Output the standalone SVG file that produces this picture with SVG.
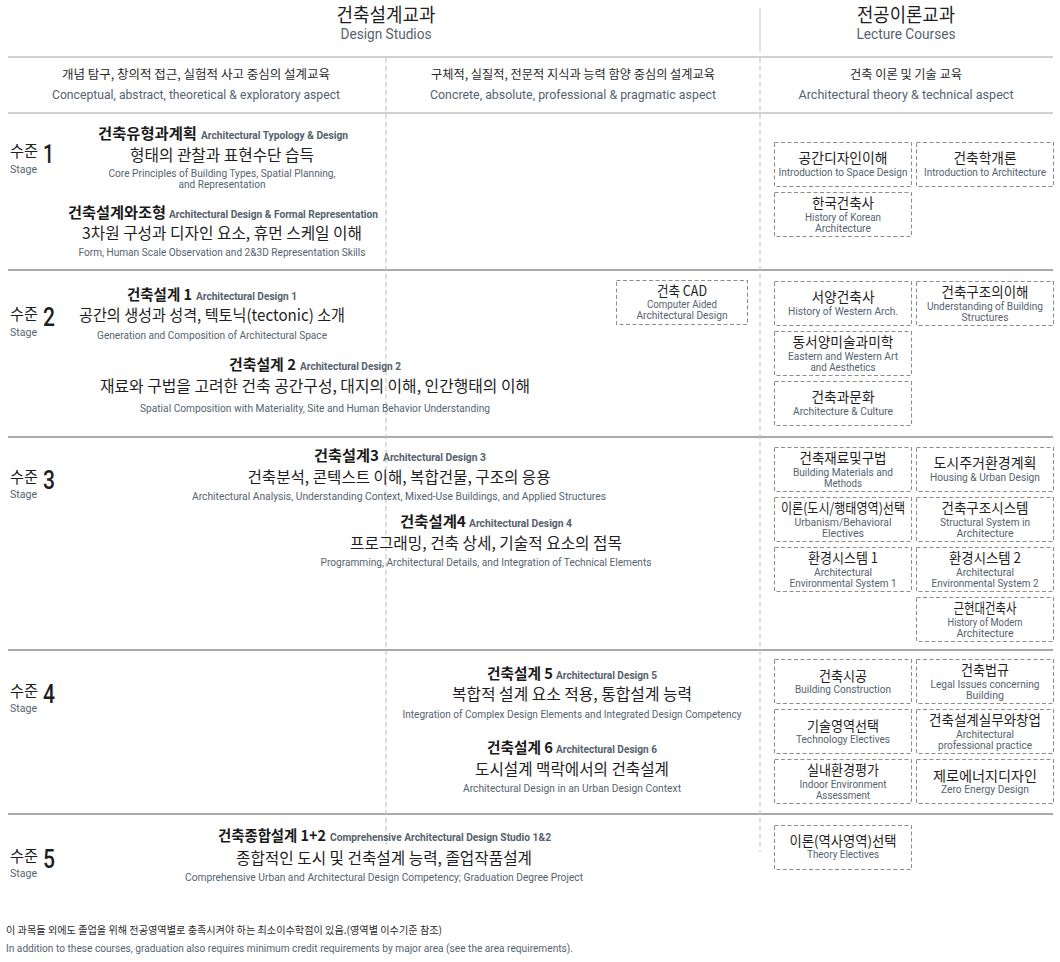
<svg xmlns="http://www.w3.org/2000/svg" width="1060" height="962" viewBox="0 0 1060 962">
<style>
text{font-family:"Noto Sans CJK KR",sans-serif}
.k{fill:#1e1e1e}
.e{font-family:"Liberation Sans Narrow","Roboto","Liberation Sans","Noto Sans CJK KR",sans-serif;fill:#55636f}
.hk{font-size:19px;text-anchor:middle;fill:#1e1e1e}
.he{font-size:15px;text-anchor:middle}
.sk{font-size:12.5px;text-anchor:middle;fill:#2a2a2a}
.se{font-size:13px;text-anchor:middle}
.tk{font-size:15px;font-weight:700;fill:#1a1a1a}
.te{font-size:11.5px;font-weight:700;fill:#55616d}
.dk{font-size:16px;text-anchor:middle;fill:#1e1e1e}
.de{font-size:11px;text-anchor:middle}
.bk{font-size:14px;text-anchor:middle;fill:#1e1e1e}
.be{font-size:11px;text-anchor:middle}
.lvk{font-size:16px;fill:#1e1e1e}
.lvn{font-family:"Liberation Sans Narrow","Roboto","Liberation Sans",sans-serif;font-size:25px;font-weight:500;fill:#1e1e1e}
.lve{font-size:11px}
.fk{font-size:10.5px;fill:#2a2a2a}
.fe{font-size:11.5px}
.box{fill:none;stroke:#8e8e8e;stroke-width:1.1;stroke-dasharray:4 2.5}
.hl{stroke:#c2c2c2;stroke-width:1.5}
.sl{stroke:#8e8e8e;stroke-width:1.6}
.vd{stroke:#bdbdbd;stroke-width:1;stroke-dasharray:5 3}
</style>

<g id="grid-lines">
<line class="hl" x1="8" y1="57" x2="1053" y2="57"/>
<line class="hl" x1="8" y1="113" x2="1053" y2="113"/>
<line class="sl" x1="8" y1="270" x2="1053" y2="270"/>
<line class="sl" x1="8" y1="437" x2="1053" y2="437"/>
<line class="sl" x1="8" y1="650" x2="1053" y2="650"/>
<line class="sl" x1="8" y1="814" x2="1053" y2="814"/>
<line x1="760" y1="8" x2="760" y2="52" stroke="#c8c8c8" stroke-width="1"/>
<line class="vd" x1="760" y1="58" x2="760" y2="852"/>
<line class="vd" x1="386" y1="58" x2="386" y2="845"/>
</g>

<g id="header">
<text class="hk" x="386" y="22" textLength="99" lengthAdjust="spacingAndGlyphs">건축설계교과</text>
<text class="e he" x="386" y="39" textLength="91" lengthAdjust="spacingAndGlyphs">Design Studios</text>
<text class="hk" x="906" y="22" textLength="98" lengthAdjust="spacingAndGlyphs">전공이론교과</text>
<text class="e he" x="906" y="39" textLength="99" lengthAdjust="spacingAndGlyphs">Lecture Courses</text>
<text class="sk" x="196" y="79" textLength="268" lengthAdjust="spacingAndGlyphs">개념 탐구, 창의적 접근, 실험적 사고 중심의 설계교육</text>
<text class="e se" x="196" y="99" textLength="288" lengthAdjust="spacingAndGlyphs">Conceptual, abstract, theoretical &amp; exploratory aspect</text>
<text class="sk" x="573" y="79" textLength="284" lengthAdjust="spacingAndGlyphs">구체적, 실질적, 전문적 지식과 능력 함양 중심의 설계교육</text>
<text class="e se" x="573" y="99" textLength="286" lengthAdjust="spacingAndGlyphs">Concrete, absolute, professional &amp; pragmatic aspect</text>
<text class="sk" x="906" y="79" textLength="112" lengthAdjust="spacingAndGlyphs">건축 이론 및 기술 교육</text>
<text class="e se" x="906" y="99" textLength="215" lengthAdjust="spacingAndGlyphs">Architectural theory &amp; technical aspect</text>
</g>

<g id="stage-1">
<text class="lvk" x="10" y="157" textLength="28" lengthAdjust="spacingAndGlyphs">수준</text>
<text class="lvn" x="43" y="163" textLength="11" lengthAdjust="spacingAndGlyphs">1</text>
<text class="e lve" x="10" y="173" textLength="27" lengthAdjust="spacingAndGlyphs">Stage</text>
</g>
<g id="stage-2">
<text class="lvk" x="10" y="320" textLength="28" lengthAdjust="spacingAndGlyphs">수준</text>
<text class="lvn" x="43" y="326" textLength="12" lengthAdjust="spacingAndGlyphs">2</text>
<text class="e lve" x="10" y="336" textLength="27" lengthAdjust="spacingAndGlyphs">Stage</text>
</g>
<g id="stage-3">
<text class="lvk" x="10" y="483" textLength="28" lengthAdjust="spacingAndGlyphs">수준</text>
<text class="lvn" x="43" y="489" textLength="12" lengthAdjust="spacingAndGlyphs">3</text>
<text class="e lve" x="10" y="498" textLength="27" lengthAdjust="spacingAndGlyphs">Stage</text>
</g>
<g id="stage-4">
<text class="lvk" x="10" y="697" textLength="28" lengthAdjust="spacingAndGlyphs">수준</text>
<text class="lvn" x="43" y="703" textLength="12" lengthAdjust="spacingAndGlyphs">4</text>
<text class="e lve" x="10" y="712" textLength="27" lengthAdjust="spacingAndGlyphs">Stage</text>
</g>
<g id="stage-5">
<text class="lvk" x="10" y="862" textLength="28" lengthAdjust="spacingAndGlyphs">수준</text>
<text class="lvn" x="43" y="868" textLength="12" lengthAdjust="spacingAndGlyphs">5</text>
<text class="e lve" x="10" y="877" textLength="27" lengthAdjust="spacingAndGlyphs">Stage</text>
</g>

<g id="studio-typology">
<text class="tk" x="98" y="139" textLength="99" lengthAdjust="spacingAndGlyphs">건축유형과계획</text>
<text class="e te" x="201" y="139" textLength="147" lengthAdjust="spacingAndGlyphs">Architectural Typology &amp; Design</text>
<text class="dk" x="222" y="161" textLength="184" lengthAdjust="spacingAndGlyphs">형태의 관찰과 표현수단 습득</text>
<text class="e de" x="222" y="177" textLength="227" lengthAdjust="spacingAndGlyphs">Core Principles of Building Types, Spatial Planning,</text>
<text class="e de" x="222" y="188" textLength="87" lengthAdjust="spacingAndGlyphs">and Representation</text>
</g>
<g id="studio-formal">
<text class="tk" x="68" y="218" textLength="98" lengthAdjust="spacingAndGlyphs">건축설계와조형</text>
<text class="e te" x="169" y="218" textLength="209" lengthAdjust="spacingAndGlyphs">Architectural Design &amp; Formal Representation</text>
<text class="dk" x="222" y="239" textLength="280" lengthAdjust="spacingAndGlyphs">3차원 구성과 디자인 요소, 휴먼 스케일 이해</text>
<text class="e de" x="222" y="256" textLength="287" lengthAdjust="spacingAndGlyphs">Form, Human Scale Observation and 2&amp;3D Representation Skills</text>
</g>

<g id="studio-design-1">
<text class="tk" x="127" y="300" textLength="65" lengthAdjust="spacingAndGlyphs">건축설계 1</text>
<text class="e te" x="196" y="300" textLength="101" lengthAdjust="spacingAndGlyphs">Architectural Design 1</text>
<text class="dk" x="212" y="321" textLength="266" lengthAdjust="spacingAndGlyphs">공간의 생성과 성격, 텍토닉(tectonic) 소개</text>
<text class="e de" x="212" y="339" textLength="230" lengthAdjust="spacingAndGlyphs">Generation and Composition of Architectural Space</text>
</g>
<g id="studio-design-2">
<text class="tk" x="229" y="370" textLength="67" lengthAdjust="spacingAndGlyphs">건축설계 2</text>
<text class="e te" x="300" y="370" textLength="101" lengthAdjust="spacingAndGlyphs">Architectural Design 2</text>
<text class="dk" x="315" y="392" textLength="430" lengthAdjust="spacingAndGlyphs">재료와 구법을 고려한 건축 공간구성, 대지의 이해, 인간행태의 이해</text>
<text class="e de" x="315" y="412" textLength="350" lengthAdjust="spacingAndGlyphs">Spatial Composition with Materiality, Site and Human Behavior Understanding</text>
</g>

<g id="studio-design-3">
<text class="tk" x="314" y="461" textLength="65" lengthAdjust="spacingAndGlyphs">건축설계3</text>
<text class="e te" x="383" y="461" textLength="103" lengthAdjust="spacingAndGlyphs">Architectural Design 3</text>
<text class="dk" x="399" y="483" textLength="303" lengthAdjust="spacingAndGlyphs">건축분석, 콘텍스트 이해, 복합건물, 구조의 응용</text>
<text class="e de" x="399" y="500" textLength="414" lengthAdjust="spacingAndGlyphs">Architectural Analysis, Understanding Context, Mixed-Use Buildings, and Applied Structures</text>
</g>
<g id="studio-design-4">
<text class="tk" x="400" y="527" textLength="66" lengthAdjust="spacingAndGlyphs">건축설계4</text>
<text class="e te" x="469" y="527" textLength="103" lengthAdjust="spacingAndGlyphs">Architectural Design 4</text>
<text class="dk" x="486" y="549" textLength="272" lengthAdjust="spacingAndGlyphs">프로그래밍, 건축 상세, 기술적 요소의 접목</text>
<text class="e de" x="486" y="566" textLength="331" lengthAdjust="spacingAndGlyphs">Programming, Architectural Details, and Integration of Technical Elements</text>
</g>

<g id="studio-design-5">
<text class="tk" x="487" y="679" textLength="66" lengthAdjust="spacingAndGlyphs">건축설계 5</text>
<text class="e te" x="556" y="679" textLength="101" lengthAdjust="spacingAndGlyphs">Architectural Design 5</text>
<text class="dk" x="572" y="700" textLength="240" lengthAdjust="spacingAndGlyphs">복합적 설계 요소 적용, 통합설계 능력</text>
<text class="e de" x="572" y="718" textLength="339" lengthAdjust="spacingAndGlyphs">Integration of Complex Design Elements and Integrated Design Competency</text>
</g>
<g id="studio-design-6">
<text class="tk" x="487" y="753" textLength="66" lengthAdjust="spacingAndGlyphs">건축설계 6</text>
<text class="e te" x="556" y="753" textLength="101" lengthAdjust="spacingAndGlyphs">Architectural Design 6</text>
<text class="dk" x="572" y="775" textLength="194" lengthAdjust="spacingAndGlyphs">도시설계 맥락에서의 건축설계</text>
<text class="e de" x="572" y="792" textLength="218" lengthAdjust="spacingAndGlyphs">Architectural Design in an Urban Design Context</text>
</g>

<g id="studio-comprehensive">
<text class="tk" x="218" y="841" textLength="108" lengthAdjust="spacingAndGlyphs">건축종합설계 1+2</text>
<text class="e te" x="330" y="841" textLength="221" lengthAdjust="spacingAndGlyphs">Comprehensive Architectural Design Studio 1&amp;2</text>
<text class="dk" x="384" y="864" textLength="296" lengthAdjust="spacingAndGlyphs">종합적인 도시 및 건축설계 능력, 졸업작품설계</text>
<text class="e de" x="384" y="881" textLength="398" lengthAdjust="spacingAndGlyphs">Comprehensive Urban and Architectural Design Competency; Graduation Degree Project</text>
</g>

<!-- lecture course boxes -->
<g id="c-space-design"><rect class="box" x="774.5" y="142.5" width="137" height="44"/>
<text class="bk" x="843" y="163" textLength="89" lengthAdjust="spacingAndGlyphs">공간디자인이해</text>
<text class="e be" x="843" y="176" textLength="129" lengthAdjust="spacingAndGlyphs">Introduction to Space Design</text></g>
<g id="c-intro-arch"><rect class="box" x="916.5" y="142.5" width="137" height="44"/>
<text class="bk" x="985" y="163" textLength="63" lengthAdjust="spacingAndGlyphs">건축학개론</text>
<text class="e be" x="985" y="176" textLength="122" lengthAdjust="spacingAndGlyphs">Introduction to Architecture</text></g>
<g id="c-korean-history"><rect class="box" x="774.5" y="192.5" width="137" height="44"/>
<text class="bk" x="843" y="208" textLength="62" lengthAdjust="spacingAndGlyphs">한국건축사</text>
<text class="e be" x="843" y="221" textLength="76" lengthAdjust="spacingAndGlyphs">History of Korean</text>
<text class="e be" x="843" y="232" textLength="56" lengthAdjust="spacingAndGlyphs">Architecture</text></g>

<g id="c-cad"><rect class="box" x="616.5" y="280.5" width="131" height="44"/>
<text class="bk" x="682" y="296" textLength="50" lengthAdjust="spacingAndGlyphs">건축 CAD</text>
<text class="e be" x="682" y="308" textLength="70" lengthAdjust="spacingAndGlyphs">Computer Aided</text>
<text class="e be" x="682" y="319" textLength="91" lengthAdjust="spacingAndGlyphs">Architectural Design</text></g>
<g id="c-western-history"><rect class="box" x="774.5" y="281.5" width="137" height="44"/>
<text class="bk" x="843" y="302" textLength="63" lengthAdjust="spacingAndGlyphs">서양건축사</text>
<text class="e be" x="843" y="315" textLength="110" lengthAdjust="spacingAndGlyphs">History of Western Arch.</text></g>
<g id="c-structures"><rect class="box" x="916.5" y="281.5" width="137" height="44"/>
<text class="bk" x="985" y="297" textLength="87" lengthAdjust="spacingAndGlyphs">건축구조의이해</text>
<text class="e be" x="985" y="310" textLength="116" lengthAdjust="spacingAndGlyphs">Understanding of Building</text>
<text class="e be" x="985" y="321" textLength="47" lengthAdjust="spacingAndGlyphs">Structures</text></g>
<g id="c-aesthetics"><rect class="box" x="774.5" y="331.5" width="137" height="44"/>
<text class="bk" x="843" y="347" textLength="101" lengthAdjust="spacingAndGlyphs">동서양미술과미학</text>
<text class="e be" x="843" y="360" textLength="110" lengthAdjust="spacingAndGlyphs">Eastern and Western Art</text>
<text class="e be" x="843" y="371" textLength="65" lengthAdjust="spacingAndGlyphs">and Aesthetics</text></g>
<g id="c-culture"><rect class="box" x="774.5" y="381.5" width="137" height="44"/>
<text class="bk" x="843" y="402" textLength="63" lengthAdjust="spacingAndGlyphs">건축과문화</text>
<text class="e be" x="843" y="415" textLength="100" lengthAdjust="spacingAndGlyphs">Architecture &amp; Culture</text></g>

<g id="c-materials"><rect class="box" x="774.5" y="447.5" width="137" height="44"/>
<text class="bk" x="843" y="463" textLength="87" lengthAdjust="spacingAndGlyphs">건축재료및구법</text>
<text class="e be" x="843" y="476" textLength="100" lengthAdjust="spacingAndGlyphs">Building Materials and</text>
<text class="e be" x="843" y="487" textLength="38" lengthAdjust="spacingAndGlyphs">Methods</text></g>
<g id="c-housing"><rect class="box" x="916.5" y="447.5" width="137" height="44"/>
<text class="bk" x="985" y="468" textLength="103" lengthAdjust="spacingAndGlyphs">도시주거환경계획</text>
<text class="e be" x="985" y="481" textLength="110" lengthAdjust="spacingAndGlyphs">Housing &amp; Urban Design</text></g>
<g id="c-urban-electives"><rect class="box" x="774.5" y="497.5" width="137" height="44"/>
<text class="bk" x="843" y="513" textLength="124" lengthAdjust="spacingAndGlyphs">이론(도시/행태영역)선택</text>
<text class="e be" x="843" y="526" textLength="97" lengthAdjust="spacingAndGlyphs">Urbanism/Behavioral</text>
<text class="e be" x="843" y="537" textLength="42" lengthAdjust="spacingAndGlyphs">Electives</text></g>
<g id="c-structural-system"><rect class="box" x="916.5" y="497.5" width="137" height="44"/>
<text class="bk" x="985" y="513" textLength="87" lengthAdjust="spacingAndGlyphs">건축구조시스템</text>
<text class="e be" x="985" y="526" textLength="90" lengthAdjust="spacingAndGlyphs">Structural System in</text>
<text class="e be" x="985" y="537" textLength="57" lengthAdjust="spacingAndGlyphs">Architecture</text></g>
<g id="c-env-1"><rect class="box" x="774.5" y="547.5" width="137" height="44"/>
<text class="bk" x="843" y="563" textLength="70" lengthAdjust="spacingAndGlyphs">환경시스템 1</text>
<text class="e be" x="843" y="576" textLength="58" lengthAdjust="spacingAndGlyphs">Architectural</text>
<text class="e be" x="843" y="587" textLength="107" lengthAdjust="spacingAndGlyphs">Environmental System 1</text></g>
<g id="c-env-2"><rect class="box" x="916.5" y="547.5" width="137" height="44"/>
<text class="bk" x="985" y="563" textLength="72" lengthAdjust="spacingAndGlyphs">환경시스템 2</text>
<text class="e be" x="985" y="576" textLength="58" lengthAdjust="spacingAndGlyphs">Architectural</text>
<text class="e be" x="985" y="587" textLength="107" lengthAdjust="spacingAndGlyphs">Environmental System 2</text></g>
<g id="c-modern-history"><rect class="box" x="916.5" y="597.5" width="137" height="44"/>
<text class="bk" x="985" y="613" textLength="63" lengthAdjust="spacingAndGlyphs">근현대건축사</text>
<text class="e be" x="985" y="626" textLength="75" lengthAdjust="spacingAndGlyphs">History of Modern</text>
<text class="e be" x="985" y="637" textLength="57" lengthAdjust="spacingAndGlyphs">Architecture</text></g>

<g id="c-construction"><rect class="box" x="774.5" y="659.5" width="137" height="44"/>
<text class="bk" x="843" y="681" textLength="48" lengthAdjust="spacingAndGlyphs">건축시공</text>
<text class="e be" x="843" y="693" textLength="96" lengthAdjust="spacingAndGlyphs">Building Construction</text></g>
<g id="c-legal"><rect class="box" x="916.5" y="659.5" width="137" height="44"/>
<text class="bk" x="985" y="675" textLength="48" lengthAdjust="spacingAndGlyphs">건축법규</text>
<text class="e be" x="985" y="688" textLength="109" lengthAdjust="spacingAndGlyphs">Legal Issues concerning</text>
<text class="e be" x="985" y="699" textLength="38" lengthAdjust="spacingAndGlyphs">Building</text></g>
<g id="c-tech-electives"><rect class="box" x="774.5" y="709.5" width="137" height="44"/>
<text class="bk" x="843" y="731" textLength="72" lengthAdjust="spacingAndGlyphs">기술영역선택</text>
<text class="e be" x="843" y="743" textLength="94" lengthAdjust="spacingAndGlyphs">Technology Electives</text></g>
<g id="c-practice"><rect class="box" x="916.5" y="709.5" width="137" height="44"/>
<text class="bk" x="985" y="725" textLength="112" lengthAdjust="spacingAndGlyphs">건축설계실무와창업</text>
<text class="e be" x="985" y="738" textLength="58" lengthAdjust="spacingAndGlyphs">Architectural</text>
<text class="e be" x="985" y="749" textLength="94" lengthAdjust="spacingAndGlyphs">professional practice</text></g>
<g id="c-indoor"><rect class="box" x="774.5" y="759.5" width="137" height="44"/>
<text class="bk" x="843" y="775" textLength="72" lengthAdjust="spacingAndGlyphs">실내환경평가</text>
<text class="e be" x="843" y="788" textLength="87" lengthAdjust="spacingAndGlyphs">Indoor Environment</text>
<text class="e be" x="843" y="799" textLength="54" lengthAdjust="spacingAndGlyphs">Assessment</text></g>
<g id="c-zero-energy"><rect class="box" x="916.5" y="759.5" width="137" height="44"/>
<text class="bk" x="985" y="781" textLength="104" lengthAdjust="spacingAndGlyphs">제로에너지디자인</text>
<text class="e be" x="985" y="793" textLength="88" lengthAdjust="spacingAndGlyphs">Zero Energy Design</text></g>

<g id="c-theory-electives"><rect class="box" x="774.5" y="825.5" width="137" height="44"/>
<text class="bk" x="843" y="846" textLength="107" lengthAdjust="spacingAndGlyphs">이론(역사영역)선택</text>
<text class="e be" x="843" y="858" textLength="72" lengthAdjust="spacingAndGlyphs">Theory Electives</text></g>

<g id="footer">
<text class="fk" x="6" y="934" textLength="436" lengthAdjust="spacingAndGlyphs">이 과목들 외에도 졸업을 위해 전공영역별로 충족시켜야 하는 최소이수학점이 있음.(영역별 이수기준 참조)</text>
<text class="e fe" x="6" y="952" textLength="567" lengthAdjust="spacingAndGlyphs">In addition to these courses, graduation also requires minimum credit requirements by major area (see the area requirements).</text>
</g>
</svg>
